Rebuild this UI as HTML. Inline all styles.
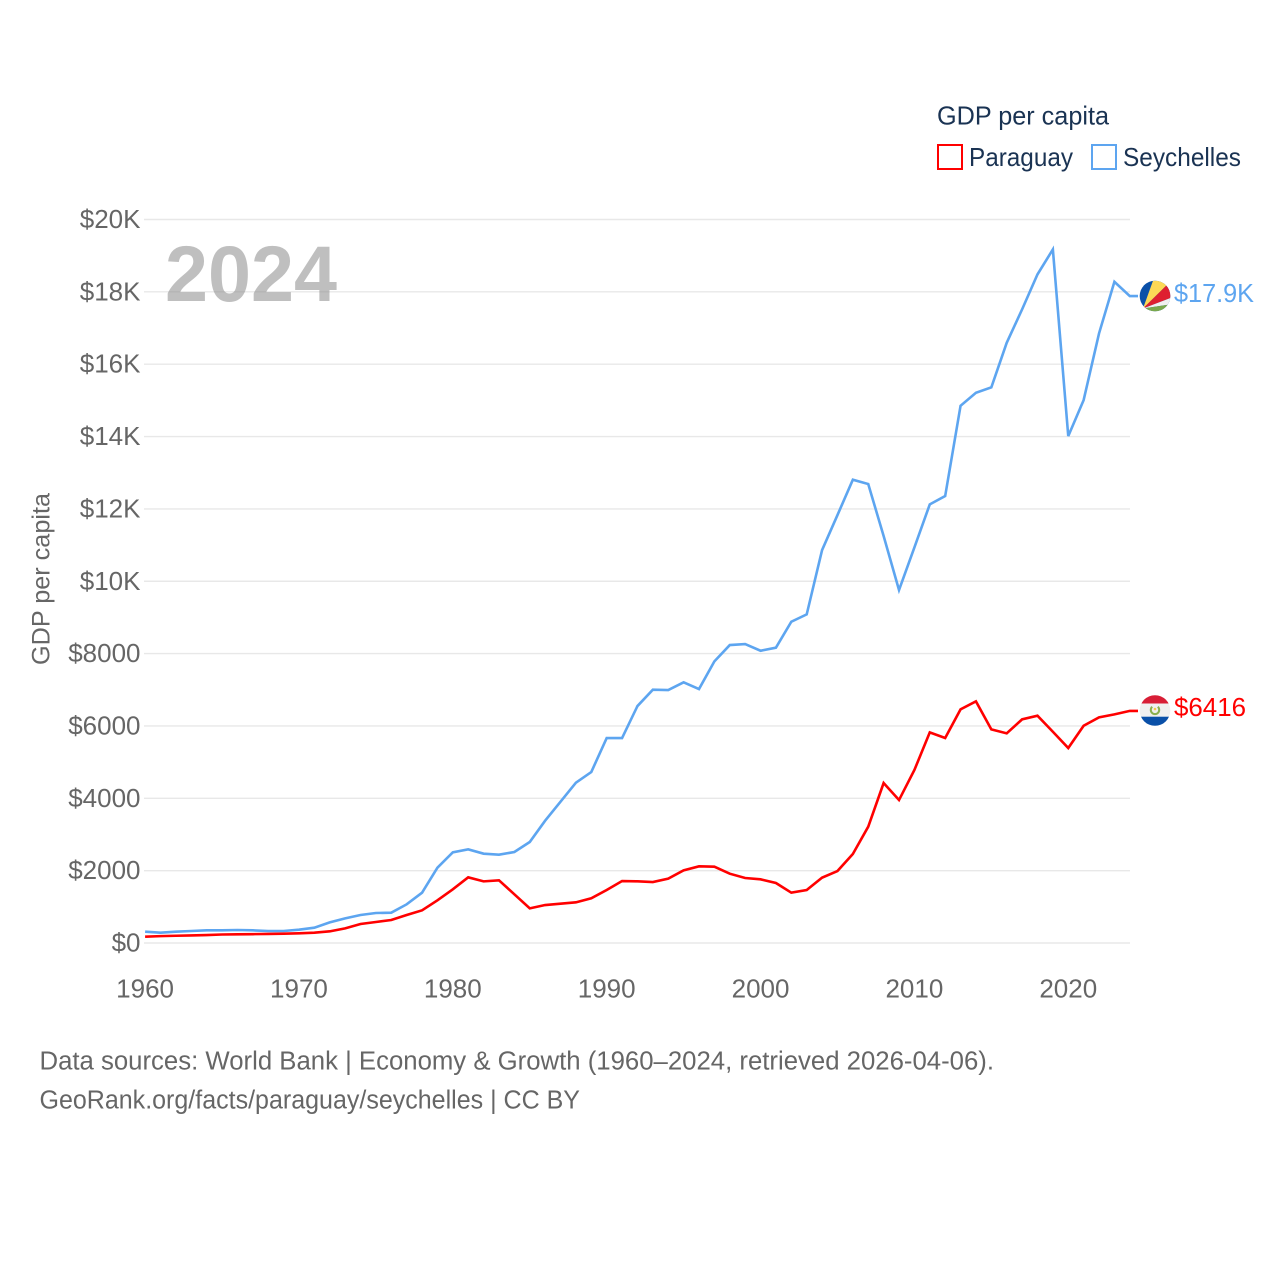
<!DOCTYPE html>
<html lang="en">
<head>
<meta charset="utf-8">
<title>GDP per capita: Paraguay and Seychelles</title>
<style>
html,body{margin:0;padding:0;background:#fff;width:1280px;height:1280px;overflow:hidden}
svg{display:block}
text{font-family:"Liberation Sans",sans-serif}
</style>
</head>
<body>
<svg id="chart" xmlns="http://www.w3.org/2000/svg" width="1280" height="1280" viewBox="0 0 1280 1280">
  <defs>
    <clipPath id="flag-clip-sc"><circle cx="1155" cy="296" r="15.3"/></clipPath>
    <clipPath id="flag-clip-py"><circle cx="1155" cy="710.5" r="15.3"/></clipPath>
  </defs>
  <rect width="1280" height="1280" fill="#fff"/>
  <g id="grid"></g>
  <g id="yticks"></g>
  <g id="xticks"></g>
  <text x="165" y="301" font-size="79" font-weight="700" fill="#808080" fill-opacity="0.5" textLength="172" lengthAdjust="spacingAndGlyphs">2024</text>
  <text transform="translate(49.5,665) rotate(-90)" font-size="25" fill="#666" textLength="172" lengthAdjust="spacingAndGlyphs">GDP per capita</text>
  <g id="series"></g>

  <g>
    <text x="937" y="124.5" font-size="26" fill="#1a3353" textLength="172" lengthAdjust="spacingAndGlyphs">GDP per capita</text>
    <g>
      <rect x="938" y="145" width="24" height="24" fill="#fff" stroke="#ff0000" stroke-width="2"/>
      <text x="969" y="166" font-size="26" fill="#1a3353" textLength="104" lengthAdjust="spacingAndGlyphs">Paraguay</text>
    </g>
    <g>
      <rect x="1092" y="145" width="24" height="24" fill="#fff" stroke="#5da5f0" stroke-width="2"/>
      <text x="1123" y="166" font-size="26" fill="#1a3353" textLength="118" lengthAdjust="spacingAndGlyphs">Seychelles</text>
    </g>
  </g>

  <g clip-path="url(#flag-clip-sc)">
    <rect x="1139" y="280" width="32" height="32" fill="#0a50a8"/>
    <polygon points="1143,308.5 1154,278 1173,278 1173,279" fill="#fcd856"/>
    <polygon points="1143,308.5 1173,279 1173,297" fill="#de1f30"/>
    <polygon points="1143,308.5 1173,297 1173,304" fill="#f0f0f0"/>
    <polygon points="1143,308.5 1173,304 1173,314 1139,314 1139,308.5" fill="#7aa84c"/>
  </g>
  <text x="1174" y="302" font-size="26" fill="#5da5f0" textLength="80" lengthAdjust="spacingAndGlyphs">$17.9K</text>

  <g clip-path="url(#flag-clip-py)">
    <rect x="1139" y="695" width="32" height="8.5" fill="#d81e36"/>
    <rect x="1139" y="703.5" width="32" height="13.2" fill="#f0f0f0"/>
    <rect x="1139" y="716.7" width="32" height="10" fill="#0a50a8"/>
    <path d="M1152.2 706.8 A4.2 4.2 0 1 0 1157.8 706.8" fill="none" stroke="#8ab04e" stroke-width="2"/>
    <circle cx="1155" cy="709" r="1.3" fill="#f4c94c"/>
  </g>
  <text x="1174" y="716" font-size="26" fill="#ff0000" textLength="72" lengthAdjust="spacingAndGlyphs">$6416</text>

  <text x="39.5" y="1069.5" font-size="25.5" fill="#666" textLength="954.5" lengthAdjust="spacingAndGlyphs">Data sources: World Bank | Economy &amp; Growth (1960–2024, retrieved 2026-04-06).</text>
  <text x="39.5" y="1108.5" font-size="25.5" fill="#666" textLength="540.5" lengthAdjust="spacingAndGlyphs">GeoRank.org/facts/paraguay/seychelles | CC BY</text>
</svg>
<script>
const startYear = 1960;
const paraguayValues = [175,190,200,210,220,235,240,245,250,258,267,285,322,405,525,580,636,774,903,1180,1484,1815,1704,1732,1346,958,1050,1087,1124,1235,1465,1713,1704,1686,1778,2008,2119,2110,1916,1797,1760,1658,1391,1465,1806,1990,2460,3216,4422,3952,4782,5823,5666,6459,6680,5906,5795,6182,6283,5840,5390,6006,6238,6321,6416];
const seychellesValues = [312,285,312,332,350,350,359,350,332,332,368,423,571,682,774,829,838,1069,1391,2082,2506,2589,2469,2441,2515,2792,3381,3906,4431,4726,5666,5666,6550,7002,6993,7205,7020,7785,8236,8264,8079,8163,8881,9084,10862,11830,12806,12687,11250,9757,10936,12125,12355,14851,15210,15359,16592,17515,18482,19173,14013,15008,16851,18278,17883];
const yTickValues = [0,2000,4000,6000,8000,10000,12000,14000,16000,18000,20000];
const yTickLabels = ["$0","$2000","$4000","$6000","$8000","$10K","$12K","$14K","$16K","$18K","$20K"];
const xTickYears = [1960,1970,1980,1990,2000,2010,2020];

const NS = 'http://www.w3.org/2000/svg';
const xScale = function (year) { return 145.1 + (year - startYear) * (1129.8 - 145.1) / 64; };
const yScale = function (value) { return 943 - value * (943 - 219.5) / 20000; };

const gridGroup = document.getElementById('grid');
const yTickGroup = document.getElementById('yticks');
const xTickGroup = document.getElementById('xticks');
const seriesGroup = document.getElementById('series');

yTickValues.forEach(function (value, i) {
  const line = document.createElementNS(NS, 'line');
  
  
  line.setAttribute('x1', 144);
  line.setAttribute('x2', 1130);
  line.setAttribute('y1', yScale(value));
  line.setAttribute('y2', yScale(value));
  line.setAttribute('stroke', '#e8e8e8');
  line.setAttribute('stroke-width', 1.4);
  gridGroup.appendChild(line);

  const label = document.createElementNS(NS, 'text');
  
  
  label.setAttribute('x', 140.5);
  label.setAttribute('y', yScale(value) + 8.5);
  label.setAttribute('text-anchor', 'end');
  label.setAttribute('font-size', 26);
  label.setAttribute('fill', '#666');
  label.textContent = yTickLabels[i];
  yTickGroup.appendChild(label);
});

xTickYears.forEach(function (year) {
  const label = document.createElementNS(NS, 'text');
  
  
  label.setAttribute('x', xScale(year));
  label.setAttribute('y', 997.3);
  label.setAttribute('text-anchor', 'middle');
  label.setAttribute('font-size', 26);
  label.setAttribute('fill', '#666');
  label.textContent = String(year);
  xTickGroup.appendChild(label);
});

function buildPoints(values) {
  const pts = values.map(function (value, i) {
    return xScale(startYear + i).toFixed(2) + ',' + yScale(value).toFixed(2);
  });
  pts.push('1138,' + yScale(values[values.length - 1]).toFixed(2));
  return pts.join(' ');
}

const seychellesLine = document.createElementNS(NS, 'polyline');


seychellesLine.setAttribute('points', buildPoints(seychellesValues));
seychellesLine.setAttribute('fill', 'none');
seychellesLine.setAttribute('stroke', '#5da5f0');
seychellesLine.setAttribute('stroke-width', 2.6);
seriesGroup.appendChild(seychellesLine);

const paraguayLine = document.createElementNS(NS, 'polyline');


paraguayLine.setAttribute('points', buildPoints(paraguayValues));
paraguayLine.setAttribute('fill', 'none');
paraguayLine.setAttribute('stroke', '#ff0000');
paraguayLine.setAttribute('stroke-width', 2.6);
seriesGroup.appendChild(paraguayLine);
</script>
</body>
</html>
